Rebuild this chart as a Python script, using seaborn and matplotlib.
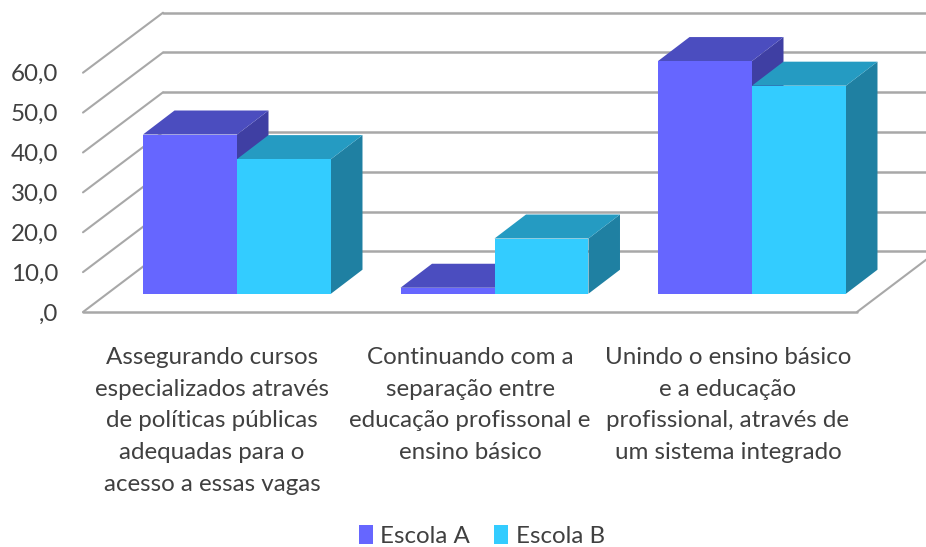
import matplotlib
matplotlib.use("Agg")
import matplotlib.pyplot as plt
import pandas as pd
import seaborn as sns
from matplotlib.patches import ConnectionPatch, Polygon
from matplotlib.transforms import IdentityTransform

categories = [
    "Assegurando cursos\nespecializados através\nde políticas públicas\nadequadas para o\nacesso a essas vagas",
    "Continuando com a\nseparação entre\neducação profissonal e\nensino básico",
    "Unindo o ensino básico\ne a educação\nprofissional, através de\num sistema integrado",
]
escola_a = [40.1, 1.5, 58.6]
escola_b = [33.9, 13.9, 52.4]
series_names = ["Escola A", "Escola B"]
y_ticks = [0, 10, 20, 30, 40, 50, 60]
y_tick_labels = [",0", "10,0", "20,0", "30,0", "40,0", "50,0", "60,0"]

W, H = 926, 547
sns.set_theme(style="white")
plt.rcParams["font.family"] = ["Lato", "DejaVu Sans"]
TEXT = "#404040"
GRID = "#a8a8a8"
FS = 17.4
front_colors = {"Escola A": "#6666ff", "Escola B": "#33ccff"}
top_colors = {"Escola A": "#4b4dbf", "Escola B": "#259bc2"}
side_colors = {"Escola A": "#3f3fa3", "Escola B": "#1f80a2"}
DX, DY = 31.5, 24

fig = plt.figure(figsize=(W / 100, H / 100), dpi=100)


def axes_px(left, right, top, bottom, zorder):
    a = fig.add_axes([left / W, 1 - bottom / H, (right - left) / W, (bottom - top) / H], zorder=zorder)
    a.patch.set_alpha(0)
    for s in a.spines.values():
        s.set_visible(False)
    a.set_ylim(0, 60)
    return a


# back wall, floor-front plane, bar plane
ax_back = axes_px(163, 937, 12.7, 251.5, 1)
ax_wall = axes_px(83, 857, 72.7, 312.0, 2)
ax_bars = axes_px(108.25, 880.75, 55.5, 293.7, 3)

ax_back.set_xlim(0, 1)
ax_back.set_xticks([])
ax_back.set_yticks(y_ticks)
ax_back.tick_params(left=False, labelleft=False)
ax_back.grid(axis="y", color=GRID, lw=1.8)
for line in ax_back.get_ygridlines():
    line.set_clip_on(False)

ax_wall.set_xlim(-0.5, 2.5)
ax_wall.set_xticks(range(len(categories)), categories, fontsize=FS, color=TEXT, linespacing=1.64)
ax_wall.set_yticks(y_ticks, y_tick_labels, fontsize=FS, color=TEXT)
ax_wall.tick_params(axis="x", length=0, pad=25)
ax_wall.tick_params(axis="y", length=0, pad=18)
ax_wall.axhline(0, color=GRID, lw=1.8, clip_on=False)

# depth lines of the left wall and the floor's right edge
for v in y_ticks:
    ax_back.add_artist(ConnectionPatch(
        xyA=(0, v), coordsA=ax_wall.get_yaxis_transform(),
        xyB=(0, v), coordsB=ax_back.get_yaxis_transform(),
        color=GRID, lw=1.5, clip_on=False))
ax_back.add_artist(ConnectionPatch(
    xyA=(1, 0), coordsA=ax_wall.get_yaxis_transform(),
    xyB=(1, 0), coordsB=ax_back.get_yaxis_transform(),
    color=GRID, lw=1.5, clip_on=False))

df = pd.DataFrame({
    "categoria": categories * 2,
    "escola": [series_names[0]] * 3 + [series_names[1]] * 3,
    "valor": escola_a + escola_b,
})
sns.barplot(data=df, x="categoria", y="valor", hue="escola", order=categories,
            hue_order=series_names, palette=front_colors, saturation=1,
            width=0.73, gap=0, dodge=True, ax=ax_bars, edgecolor="none", linewidth=0)
ax_bars.set_xlim(-0.5, 2.5)
ax_bars.set_ylim(0, 60)
ax_bars.set_xlabel("")
ax_bars.set_ylabel("")
ax_bars.set_xticks([])
ax_bars.set_yticks([])

# extrude every bar drawn by seaborn
for s_idx, (name, container) in enumerate(zip(series_names, ax_bars.containers)):
    for bar in container:
        bar.set_zorder(5)
        x0, x1 = bar.get_x(), bar.get_x() + bar.get_width()
        h = bar.get_height()
        (px0, py0), (px1, py1) = ax_bars.transData.transform([(x0, 0), (x1, h)])
        side = [(px1, py0), (px1 + DX, py0 + DY), (px1 + DX, py1 + DY), (px1, py1)]
        top = [(px0, py1), (px0 + DX, py1 + DY), (px1 + DX, py1 + DY), (px1, py1)]
        ax_bars.add_patch(Polygon(side, closed=True, fc=side_colors[name], ec="none",
                                  transform=IdentityTransform(), clip_on=False, zorder=2 + s_idx))
        ax_bars.add_patch(Polygon(top, closed=True, fc=top_colors[name], ec="none",
                                  transform=IdentityTransform(), clip_on=False, zorder=2 + s_idx))

handles, labels = ax_bars.get_legend_handles_labels()
ax_bars.get_legend().remove()
fig.legend(handles, labels, loc="center", bbox_to_anchor=(482 / W, 1 - 536 / H), ncol=2,
           frameon=False, fontsize=FS, labelcolor=TEXT, handlelength=0.58, handleheight=0.8,
           handletextpad=0.3, columnspacing=1.0)

fig.savefig("out.png", dpi=100)
